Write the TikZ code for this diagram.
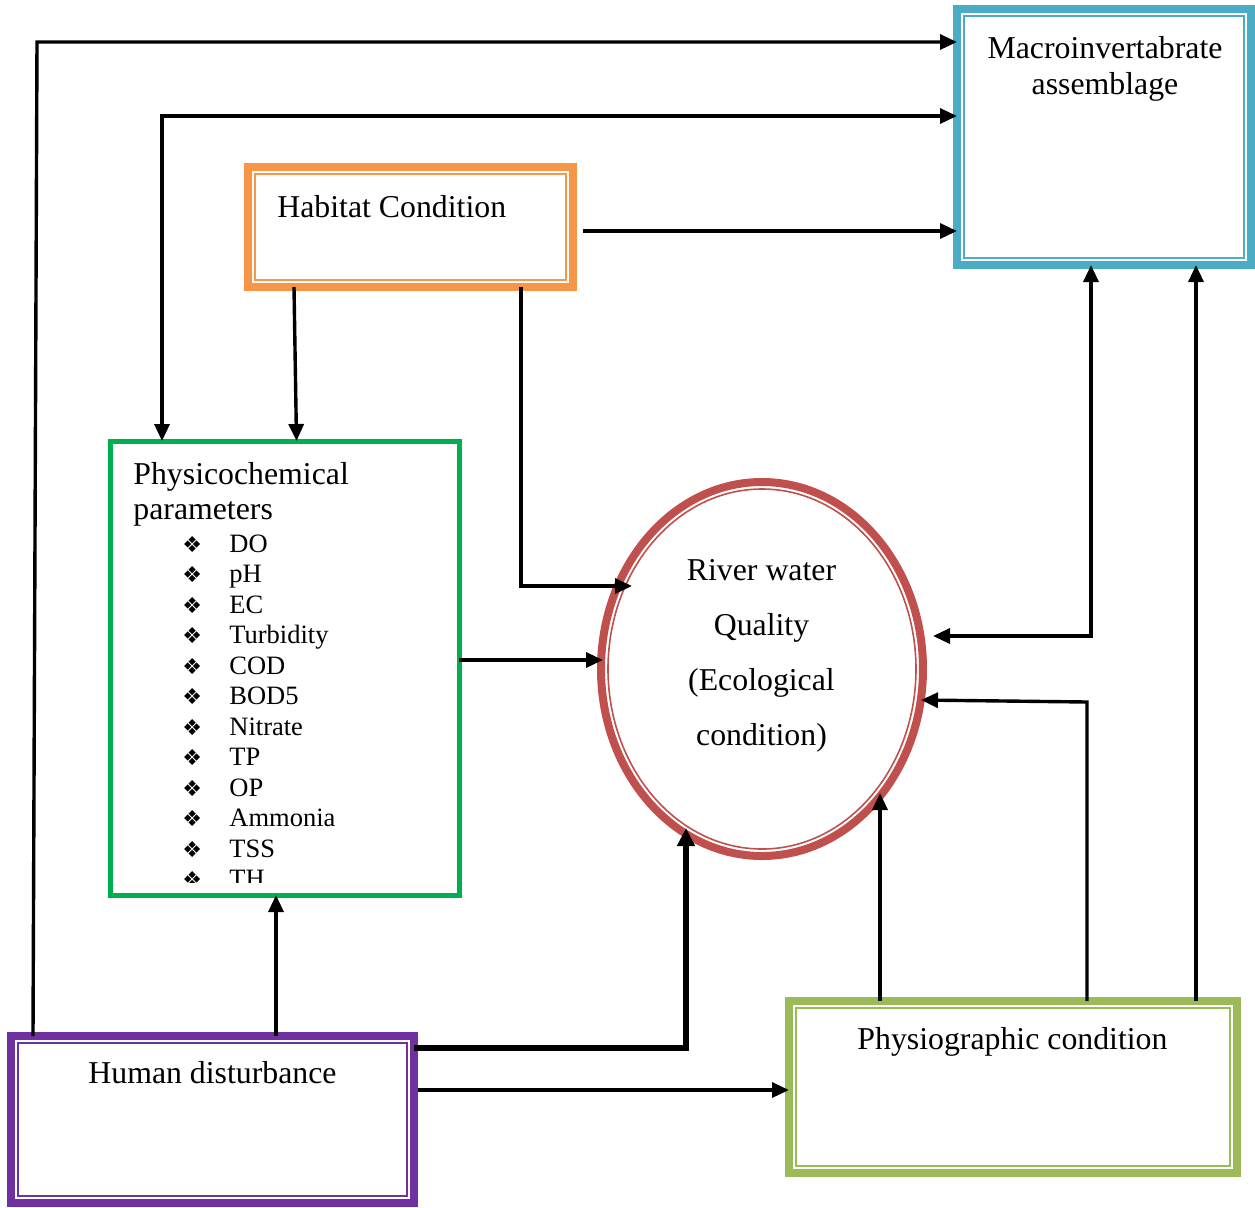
\documentclass[tikz,border=0pt]{standalone}
\usepackage{fontspec}
\setmainfont{Liberation Serif}
\newfontfamily\symfnt{DejaVu Sans}
\usetikzlibrary{arrows.meta,shapes.geometric,fit,calc}
\definecolor{cmacro}{HTML}{4BACC6}
\definecolor{chab}{HTML}{F79646}
\definecolor{cphys}{HTML}{00B050}
\definecolor{criver}{HTML}{C0504D}
\definecolor{chuman}{HTML}{7030A0}
\definecolor{cgeo}{HTML}{9BBB59}
\begin{document}
\begin{tikzpicture}[x=0.5pt,y=-0.5pt,
  font=\fontsize{15.9}{19}\selectfont,
  box/.style={draw=#1, line width=4pt, inner sep=0pt, outer sep=0pt},
  inbox/.style={draw=#1, line width=0.8pt},
  conn/.style={line width=1.7pt, -{Triangle[length=8.5pt,width=7.5pt]}},
  conntwo/.style={line width=1.7pt, {Triangle[length=8.5pt,width=7.5pt]}-{Triangle[length=8.5pt,width=7.5pt]}},
  connthick/.style={line width=3pt, -{Triangle[length=9pt,width=8.5pt]}},
  txt/.style={inner sep=0pt, anchor=base},
  itemtxt/.style={inner sep=0pt, anchor=base west, font=\fontsize{13.25}{15}\selectfont},
  bul/.style={inner sep=0pt, anchor=base west, font=\symfnt\fontsize{11}{13}\selectfont}]
\fill[white] (0,0) rectangle (1255,1207);
\useasboundingbox (0,0) rectangle (1255,1207);

% boxes
\node[box=cmacro, fit={(957,9) (1251,265)}] (macro) {};
\draw[inbox=cmacro] ($(macro.north west)+(7,7)$) rectangle ($(macro.south east)+(-7,-7)$);
\node[box=chab, fit={(248,167) (573,287)}] (hab) {};
\draw[inbox=chab] ($(hab.north west)+(7,7)$) rectangle ($(hab.south east)+(-7,-7)$);
\node[draw=cphys, line width=2.5pt, inner sep=0pt, outer sep=0pt, fit={(110.5,441) (459,895)}] (phys) {};
\node[box=chuman, fit={(11,1036) (414,1203)}] (human) {};
\draw[inbox=chuman] ($(human.north west)+(7,7)$) rectangle ($(human.south east)+(-7,-7)$);
\node[box=cgeo, fit={(789,1001) (1237,1173)}] (physio) {};
\draw[inbox=cgeo] ($(physio.north west)+(7,7)$) rectangle ($(physio.south east)+(-7,-7)$);
\node[ellipse, draw=criver, line width=4pt, inner sep=0pt, outer sep=0pt,
  minimum width=161pt, minimum height=187pt] (river) at (762,669) {};
\node[ellipse, draw=criver, line width=0.8pt, inner sep=0pt, outer sep=0pt,
  minimum width=154pt, minimum height=180pt] (riverin) at (river.center) {};

% texts
\node[txt] (macrot1) at (1105,58) {Macroinvertabrate};
\node[txt] (macrot2) at (1105,94) {assemblage};
\node[txt, anchor=base west] (habt) at (277,217) {Habitat Condition};
\node[txt, anchor=base west] (physt1) at (133,484) {Physicochemical};
\node[txt, anchor=base west] (physt2) at (133,519) {parameters};
\foreach \t [count=\i from 0] in {DO,pH,EC,Turbidity,COD,BOD5,Nitrate,TP,OP,Ammonia,TSS} {
  \node[bul] (bu\i) at (182,{552+30.5*\i}) {❖};
  \node[itemtxt] (it\i) at (229,{552+30.5*\i}) {\t};
}
\begin{scope}
  \clip (100,860) rectangle (460,882);
  \node[bul] (bu11) at (182,887.5) {❖};
  \node[itemtxt] (it11) at (229,887.5) {TH};
\end{scope}
\node[txt] (rivt1) at (761.5,580) {River water};
\node[txt] (rivt2) at (761.5,635.5) {Quality};
\node[txt] (rivt3) at (761.5,690.5) {(Ecological};
\node[txt] (rivt4) at (761.5,745.5) {condition)};
\node[txt] (humant) at (212.5,1083) {Human disturbance};
\node[txt] (physiot) at (1012.5,1049) {Physiographic condition};

% connectors
\coordinate (k1) at (37,42);
\draw[conn] ($(human.north west)+(22,0)$) -- (k1) -- (k1 -| macro.west);
\coordinate (k2) at (162,116);
\draw[conntwo] (k2 |- phys.north) -- (k2) -- (k2 -| macro.west);
\draw[conn] ($(hab.east)+(10,4)$) -- ($(hab.east -| macro.west)+(0,4)$);
\draw[conn] ($(hab.south west)+(46,0)$) -- ($(phys.north west)+(186,0)$);
\draw[conn] ($(hab.south west)+(273,0)$) |- ($(river.center)+(-130,-83)$);
\draw[conn] ($(phys.east)+(0,-8)$) -- ($(river.center)+(-159,-9)$);
\draw[conn] ($(human.north west)+(265,0)$) -- ($(phys.south west)+(165.5,0)$);
\draw[connthick] ($(human.north east)+(0,12)$) -| ($(river.center)+(-76,159)$);
\draw[conn] ($(human.east)+(4,-29.5)$) -- ($(physio.west)+(0,3)$);
\draw[conn] ($(physio.north west)+(91,0)$) -- ($(river.center)+(118,124)$);
\coordinate (k3) at (1087,702);
\draw[conn] (k3 |- physio.north) -- (k3) -- ($(river.center)+(159,31)$);
\draw[conntwo] ($(macro.south west)+(134,0)$) |- ($(river.center)+(171,-33)$);
\draw[conn] ($(physio.north west)+(407,0)$) -- ($(macro.south west)+(239,0)$);
\end{tikzpicture}
\end{document}
